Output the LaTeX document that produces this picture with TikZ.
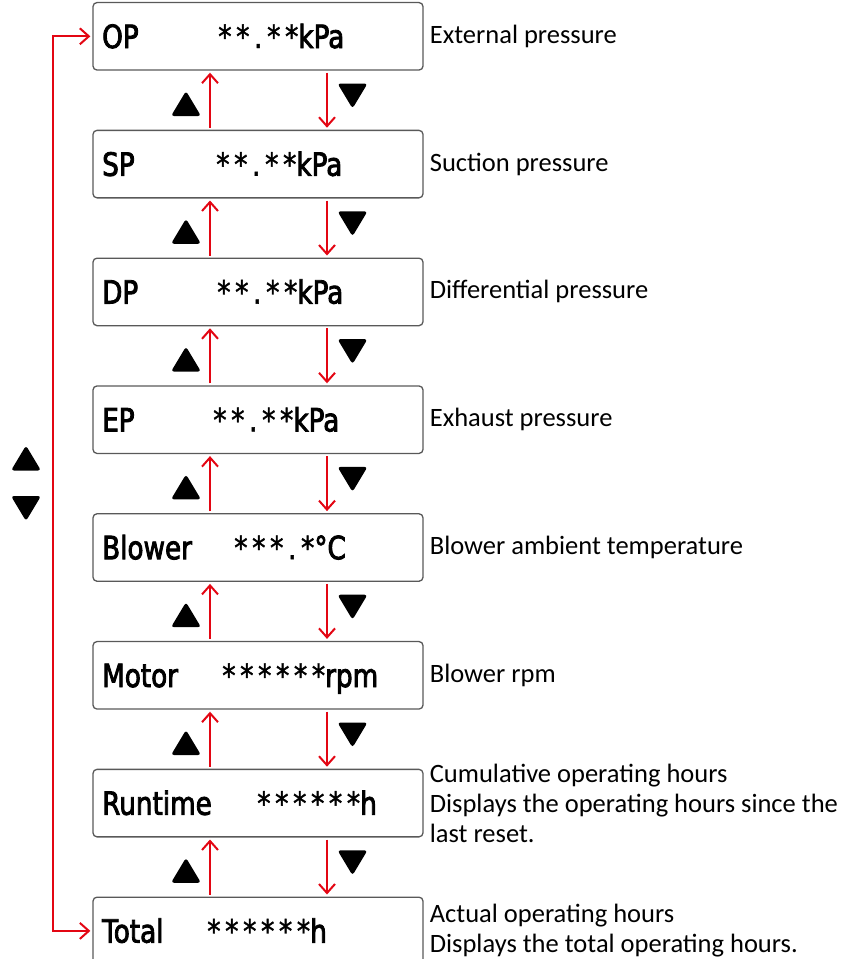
\documentclass[tikz,border=0pt]{standalone}
\usepackage{fontspec}
\setmainfont{Carlito}
\newfontfamily\lcdfont[FakeStretch=0.82, FakeBold=2.6]{DejaVu Sans}
\newfontfamily\lcdstarfont[FakeStretch=0.84, FakeBold=1.2, LetterSpace=14]{DejaVu Sans}
\newcommand{\stars}[1]{{\lcdstarfont #1}}
\usetikzlibrary{arrows.meta}

\definecolor{keyred}{RGB}{227,6,19}

\tikzset{
    screen/.style={draw=black!65, line width=1.3pt, rounded corners=4pt,
        minimum width=330pt, minimum height=67.5pt, inner sep=0pt},
    lcd/.style={font=\lcdfont\fontsize{32}{32}\selectfont, inner sep=0pt, anchor=base west},
    note/.style={font=\fontsize{26.5}{30}\selectfont, align=left, anchor=west, inner sep=0pt},
    nav/.style={keyred, line width=2pt, shorten >=2pt, shorten <=2pt,
        -{Straight Barb[length=9pt,width=16pt,line width=2pt]}},
    keyup/.pic={\fill[rounded corners=3pt] (-15,12.5) -- (15,12.5) -- (0,-12.5) -- cycle;},
    keydown/.pic={\fill[rounded corners=3pt] (-15,-12.5) -- (15,-12.5) -- (0,12.5) -- cycle;}
}

\begin{document}
\begin{tikzpicture}[x=1pt, y=-1pt]
    \useasboundingbox (0,0) rectangle (850,959);

    % Display screens
    \node[screen] (op) at (258,36.3) {};
    \node[screen] (sp) at (258,164.1) {};
    \node[screen] (dp) at (258,291.9) {};
    \node[screen] (ep) at (258,419.7) {};
    \node[screen] (blower) at (258,547.5) {};
    \node[screen] (motor) at (258,675.3) {};
    \node[screen] (runtime) at (258,803.1) {};
    \node[screen] (total) at (258,930.9) {};

    % Screen texts
    \node[lcd] at (102,48) {OP};
    \node[lcd] at (218,48) {\stars{**.**}kPa};
    \node[lcd] at (102,175.8) {SP};
    \node[lcd] at (216,175.8) {\stars{**.**}kPa};
    \node[lcd] at (102,303.6) {DP};
    \node[lcd] at (217,303.6) {\stars{**.**}kPa};
    \node[lcd] at (102,431.4) {EP};
    \node[lcd] at (213,431.4) {\stars{**.**}kPa};
    \node[lcd] at (102,559.2) {Blower};
    \node[lcd] at (234,559.2) {\stars{***.*}°C};
    \node[lcd] at (102,687) {Motor};
    \node[lcd] at (222,687) {\stars{******}rpm};
    \node[lcd] at (102,814.8) {Runtime};
    \node[lcd] at (257,814.8) {\stars{******}h};
    \node[lcd] at (102,942.6) {Total};
    \node[lcd] at (207,942.6) {\stars{******}h};

    % Descriptions
    \node[note] (opnote) at ([xshift=6pt]op.east) {External pressure};
    \node[note] (spnote) at ([xshift=6pt]sp.east) {Suction pressure};
    \node[note] (dpnote) at ([xshift=6pt]dp.east) {Differential pressure};
    \node[note] (epnote) at ([xshift=6pt]ep.east) {Exhaust pressure};
    \node[note] (blowernote) at ([xshift=6pt]blower.east) {Blower ambient temperature};
    \node[note] (motornote) at ([xshift=6pt]motor.east) {Blower rpm};
    \node[note] (runtimenote) at ([xshift=6pt]runtime.east)
        {Cumulative operating hours\\Displays the operating hours since the\\last reset.};
    \node[note] (totalnote) at ([xshift=6pt]total.east)
        {Actual operating hours\\Displays the total operating hours.};

    % Up / down moves between screens
    \coordinate (upx) at (210,0);
    \coordinate (dnx) at (327,0);
    \draw[nav] (sp.north -| upx) -- (op.south -| upx);
    \draw[nav] (op.south -| dnx) -- (sp.north -| dnx);
    \draw[nav] (dp.north -| upx) -- (sp.south -| upx);
    \draw[nav] (sp.south -| dnx) -- (dp.north -| dnx);
    \draw[nav] (ep.north -| upx) -- (dp.south -| upx);
    \draw[nav] (dp.south -| dnx) -- (ep.north -| dnx);
    \draw[nav] (blower.north -| upx) -- (ep.south -| upx);
    \draw[nav] (ep.south -| dnx) -- (blower.north -| dnx);
    \draw[nav] (motor.north -| upx) -- (blower.south -| upx);
    \draw[nav] (blower.south -| dnx) -- (motor.north -| dnx);
    \draw[nav] (runtime.north -| upx) -- (motor.south -| upx);
    \draw[nav] (motor.south -| dnx) -- (runtime.north -| dnx);
    \draw[nav] (total.north -| upx) -- (runtime.south -| upx);
    \draw[nav] (runtime.south -| dnx) -- (total.north -| dnx);

    % Key symbols beside the moves
    \pic at (186,103.5) {keyup};
    \pic at (352.5,96) {keydown};
    \pic at (186,231.3) {keyup};
    \pic at (352.5,223.8) {keydown};
    \pic at (186,359.1) {keyup};
    \pic at (352.5,351.6) {keydown};
    \pic at (186,486.9) {keyup};
    \pic at (352.5,479.4) {keydown};
    \pic at (186,614.7) {keyup};
    \pic at (352.5,607.2) {keydown};
    \pic at (186,742.5) {keyup};
    \pic at (352.5,735) {keydown};
    \pic at (186,870.3) {keyup};
    \pic at (352.5,862.8) {keydown};

    % Wrap-around between first and last screen
    \coordinate (loopx) at (53,0);
    \draw[nav, {Straight Barb[length=9pt,width=16pt,line width=2pt]}-{Straight Barb[length=9pt,width=16pt,line width=2pt]}]
        (op.west) -- (op.west -| loopx) -- (total.west -| loopx) -- (total.west);
    \pic at (26,458) {keyup};
    \pic at (26,508.5) {keydown};
\end{tikzpicture}
\end{document}
